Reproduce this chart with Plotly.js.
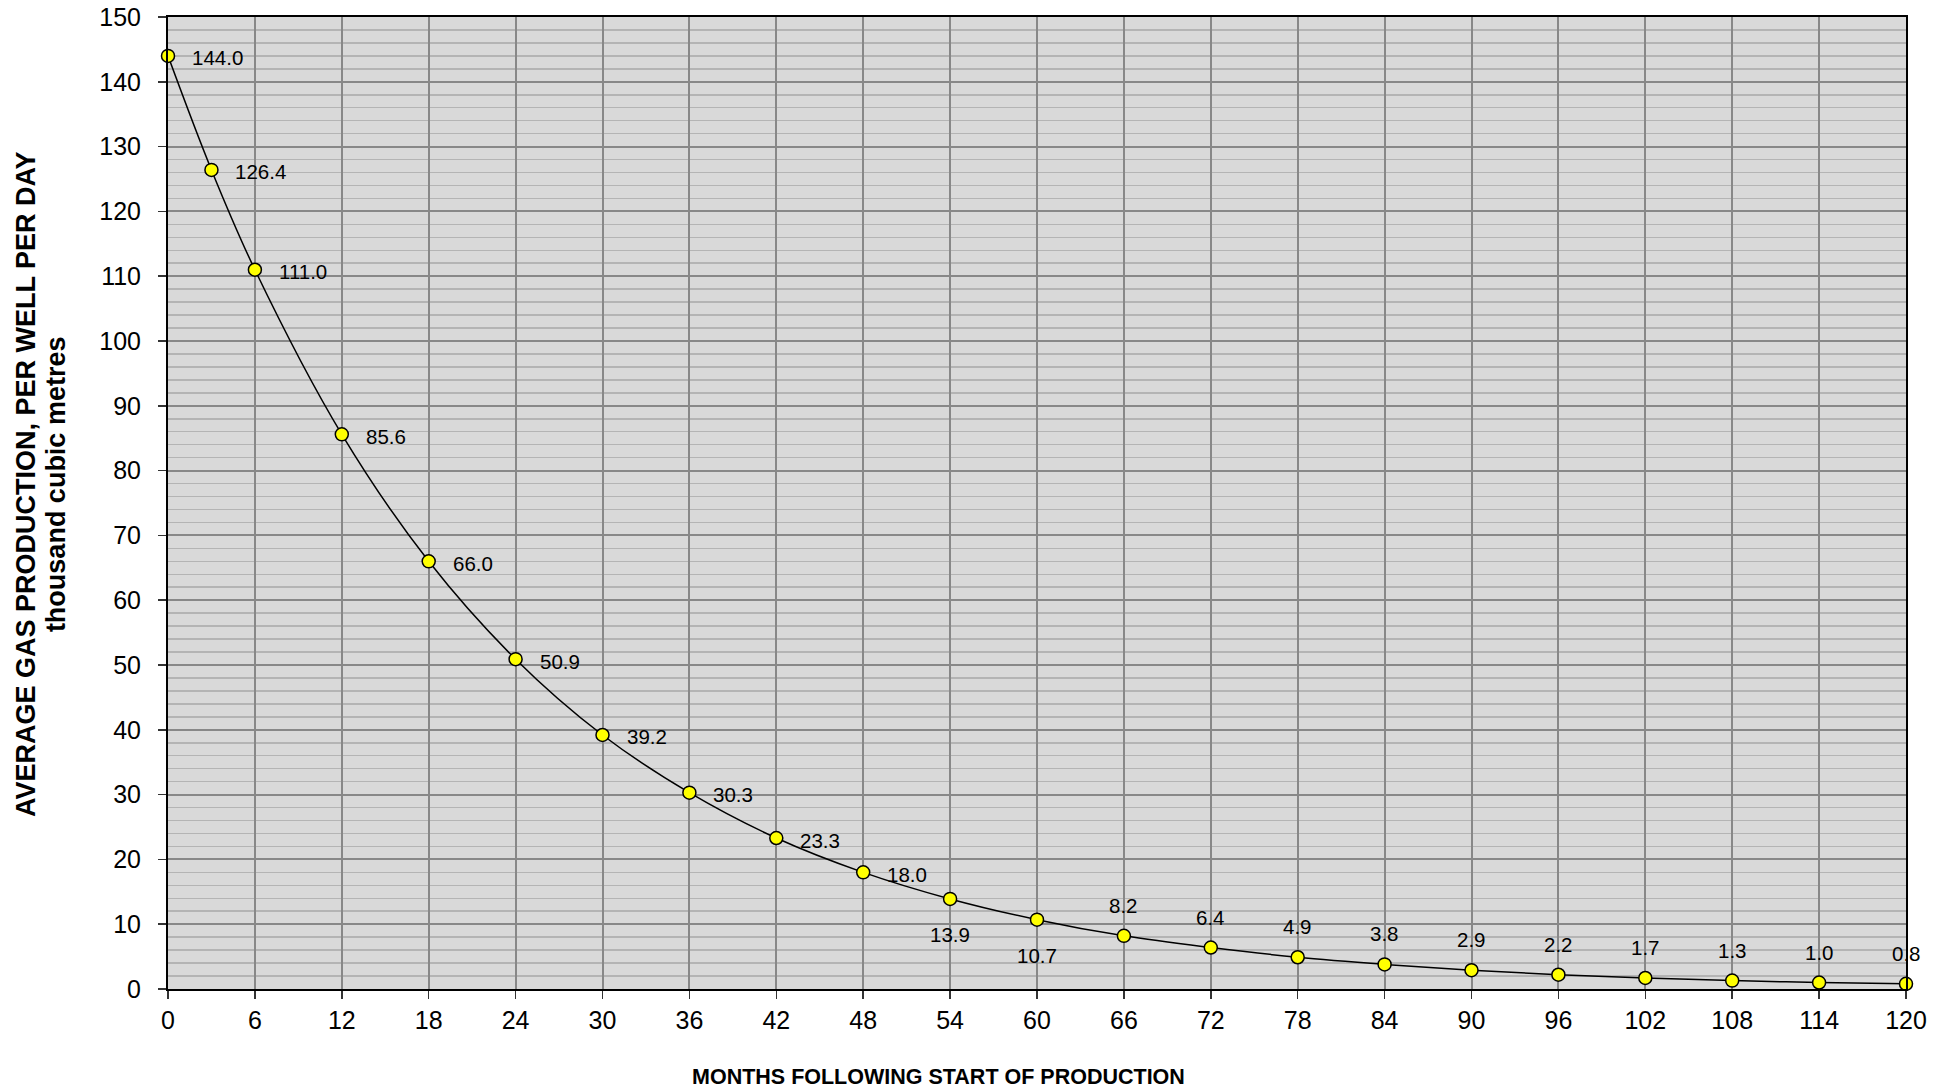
<!DOCTYPE html>
<html>
<head>
<meta charset="utf-8">
<script src="https://cdn.plot.ly/plotly-3.0.1.min.js"></script>
<style>
html,body{margin:0;padding:0;background:#fff;}
#chart{width:1952px;height:1091px;}
</style>
</head>
<body>
<div id="chart"></div>
<script>
// Data
const months = [0, 3, 6, 12, 18, 24, 30, 36, 42, 48, 54, 60, 66, 72, 78, 84, 90, 96, 102, 108, 114, 120];
const gasProduction = [144.0, 126.4, 111.0, 85.6, 66.0, 50.9, 39.2, 30.3, 23.3, 18.0, 13.9, 10.7, 8.2, 6.4, 4.9, 3.8, 2.9, 2.2, 1.7, 1.3, 1.0, 0.8];
const labelSide = ['right','right','right','right','right','right','right','right','right','right',
                   'below','below',
                   'above','above','above','above','above','above','above','above','above','above'];
const xTickVals = [0, 6, 12, 18, 24, 30, 36, 42, 48, 54, 60, 66, 72, 78, 84, 90, 96, 102, 108, 114, 120];
const xTitle = 'MONTHS FOLLOWING START OF PRODUCTION';
const yTitleLines = ['AVERAGE GAS PRODUCTION, PER WELL PER DAY', 'thousand cubic metres'];

const FONT = 'Arial, "Liberation Sans", sans-serif';

const trace = {
  x: months,
  y: gasProduction,
  type: 'scatter',
  mode: 'lines+markers',
  line: {color: '#000000', width: 1.5, shape: 'spline', smoothing: 1},
  marker: {color: '#ffff00', size: 13, line: {color: '#000000', width: 1.5}},
  cliponaxis: false,
  hoverinfo: 'x+y'
};

const annotations = months.map((m, i) => {
  const side = labelSide[i];
  const a = {
    x: m, y: gasProduction[i], xref: 'x', yref: 'y',
    text: gasProduction[i].toFixed(1),
    showarrow: false,
    font: {family: FONT, size: 20.5, color: '#000000'}
  };
  if (side === 'right') { a.xanchor = 'left'; a.yanchor = 'middle'; a.xshift = 22; a.yshift = -2; }
  else if (side === 'below') { a.xanchor = 'center'; a.yanchor = 'top'; a.yshift = -22; }
  else { a.xanchor = 'center'; a.yanchor = 'bottom'; a.yshift = 17; }
  return a;
});

// Axis titles (placed as in the reference)
annotations.push({
  xref: 'paper', yref: 'paper', x: 0.4436, y: -0.0905,
  xanchor: 'center', yanchor: 'middle', showarrow: false,
  text: xTitle,
  font: {family: FONT, size: 21.5, color: '#000000', weight: 'bold'}
});
annotations.push({
  xref: 'paper', yref: 'paper', x: -0.0817, y: 0.5195,
  xanchor: 'center', yanchor: 'middle', showarrow: false, textangle: -90,
  text: yTitleLines[0],
  font: {family: FONT, size: 27, color: '#000000', weight: 'bold'}
});
annotations.push({
  xref: 'paper', yref: 'paper', x: -0.0644, y: 0.5195,
  xanchor: 'center', yanchor: 'middle', showarrow: false, textangle: -90,
  text: yTitleLines[1],
  font: {family: FONT, size: 27, color: '#000000', weight: 'bold'}
});

const layout = {
  width: 1952, height: 1091,
  margin: {l: 168, r: 46, t: 17, b: 102},
  paper_bgcolor: '#ffffff',
  plot_bgcolor: '#d9d9d9',
  showlegend: false,
  font: {family: FONT, color: '#000000'},
  xaxis: {
    range: [0, 120],
    tickvals: xTickVals,
    ticktext: xTickVals.map(String),
    showgrid: true, gridcolor: '#888888', gridwidth: 2,
    zeroline: false,
    showline: true, linecolor: '#000000', linewidth: 2, mirror: true,
    ticks: 'outside', ticklen: 8, tickwidth: 1.5, tickcolor: '#333333',
    tickfont: {family: FONT, size: 25, color: '#000000'},
    ticklabelstandoff: 0
  },
  yaxis: {
    range: [0, 150],
    dtick: 10, tick0: 0,
    showgrid: true, gridcolor: '#888888', gridwidth: 2,
    minor: {dtick: 2, showgrid: true, gridcolor: '#b4b4b4', gridwidth: 1.5, ticks: ''},
    zeroline: false,
    showline: true, linecolor: '#000000', linewidth: 2, mirror: true,
    ticks: 'outside', ticklen: 8, tickwidth: 1.5, tickcolor: '#333333',
    tickfont: {family: FONT, size: 25, color: '#000000'},
    ticklabelstandoff: 12
  },
  annotations: annotations
};

Plotly.newPlot('chart', [trace], layout, {displayModeBar: false, staticPlot: true});
</script>
</body>
</html>
